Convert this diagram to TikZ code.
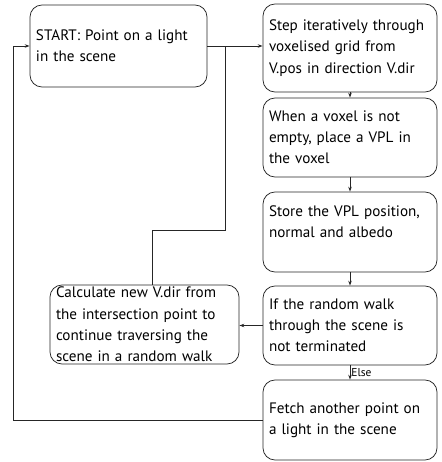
\documentclass[tikz,border=0pt]{standalone}
\usepackage{fontspec}
\setmainfont{PT Sans}
\usetikzlibrary{arrows.meta}

\begin{document}
\begin{tikzpicture} [
        x = 1bp, y = -1bp,
        every node/.style = {font=\fontsize{15.2}{21.3}\selectfont},
        stage/.style = {rectangle, draw=black!85, line width=0.75bp,
                        rounded corners=12bp, align=left,
                        inner xsep=6bp, inner ysep=0bp,
                        text width=#1},% inner width
        flow/.style = {draw=black!85, line width=0.75bp,
                       -{Stealth[length=5bp,width=3.5bp]}},
        lbl/.style = {inner sep=1bp, #1,% position
                      font=\fontsize{11.5}{14}\selectfont}
    ]
    \useasboundingbox (0,0) rectangle (442,462);

    \node (start) [stage=165bp, minimum height=82bp] at (118.5,46)
        {START: Point on a light\\in the scene};
    \node (step) [stage=162bp, minimum height=88bp] at (350,48)
        {Step iteratively through\\voxelised grid from\\V.pos in direction V.dir};
    \node (voxel) [stage=162bp, minimum height=79bp] at (350,137.5)
        {When a voxel is not\\empty, place a VPL in\\the voxel};
    \node (store) [stage=162bp, minimum height=80bp] at (350,232)
        {Store the VPL position,\\normal and albedo\\\mbox{}};
    \node (walk) [stage=162bp, minimum height=79bp] at (350,325.5)
        {If the random walk\\through the scene is\\not terminated};
    \node (fetch) [stage=162bp, minimum height=80bp] at (350,420)
        {Fetch another point on\\a light in the scene};
    \node (calc) [stage=177bp, minimum height=79bp] at (144.5,324.5)
        {Calculate new V.dir from\\the intersection point to\\continue traversing the\\scene in a random walk};

    \coordinate (merge) at (225,46);
    \coordinate (bend) at (152,230);
    \coordinate (back) at (13,0);

    \draw[flow] (start.east) -- (step.west |- start.east);
    \draw[flow] (step) -- (voxel);
    \draw[flow] (voxel) -- (store);
    \draw[flow] (store) -- (walk);
    \draw[flow] (walk) -- (fetch) node[lbl=right, midway] {Else};
    \draw[flow] (walk.west) -- (walk.west -| calc.east);
    \draw[draw=black!85, line width=0.75bp] (bend |- calc.north) -- (bend) -| (merge);
    \draw[flow] (fetch.west) -- (fetch.west -| back) |- (start.west);

\end{tikzpicture}
\end{document}
